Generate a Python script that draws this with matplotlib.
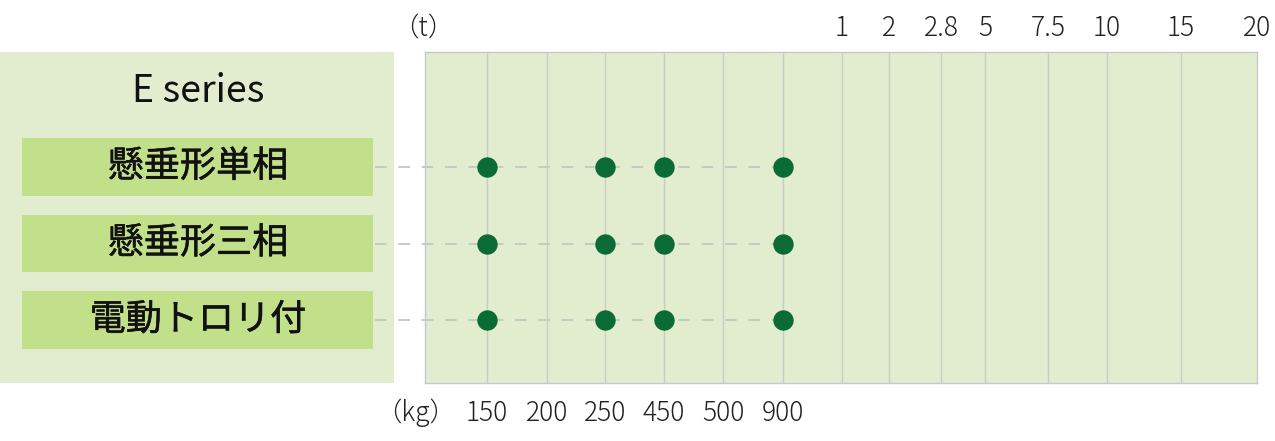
import matplotlib.pyplot as plt
from matplotlib.patches import Rectangle
import matplotlib.patheffects as pe

plt.rcParams['font.family'] = ['Noto Sans CJK JP', 'DejaVu Sans']

# data
series_name = "E series"
rows = ["懸垂形単相", "懸垂形三相", "電動トロリ付"]
kg_labels = ["150", "200", "250", "450", "500", "900"]
t_labels = ["1", "2", "2.8", "5", "7.5", "10", "15", "20"]
row_capacities = [
    ["150", "250", "450", "900"],
    ["150", "250", "450", "900"],
    ["150", "250", "450", "900"],
]

# layout (pixel columns of the capacity scale)
kg_pos = [487, 547, 605, 664, 723, 783]
t_pos = [842, 889, 941, 985, 1048, 1107, 1181, 1257]
W, H = 1275, 441
x0, x1 = 425, 1257
y_top, y_bot = 52, 383
ylims = (2.82, -1.5)

bg = "#e2edd0"
box_col = "#c2e08a"
dot_col = "#0b6b35"
grid_col = "#c9cec1"
dash_col = "#c6cac3"
txt_col = "#222222"

fig = plt.figure(figsize=(W / 100, H / 100), dpi=100)

# left panel
axl = fig.add_axes([0, 1 - y_bot / H, 394 / W, (y_bot - y_top) / H])
axl.set_xlim(0, 394)
axl.set_ylim(*ylims)
axl.set_facecolor(bg)
for s in axl.spines.values():
    s.set_visible(False)
axl.set_xticks([])
axl.set_yticks([])
axl.text(198, -0.99, series_name, fontsize=27, ha="center", va="center", color="#111111")
for i, name in enumerate(rows):
    axl.add_patch(Rectangle((22, i - 0.375), 351, 0.75, facecolor=box_col, edgecolor="none"))
    axl.text(198, i, name, fontsize=26, ha="center", va="center", color="#111111",
             path_effects=[pe.withStroke(linewidth=0.4, foreground="#111111")])

# main panel
ax = fig.add_axes([x0 / W, 1 - y_bot / H, (x1 - x0) / W, (y_bot - y_top) / H])
ax.set_xlim(x0, x1)
ax.set_ylim(*ylims)
ax.set_facecolor(bg)
for s in ax.spines.values():
    s.set_color("#c8c8c8")
    s.set_linewidth(1)
ax.set_xticks([])
ax.set_yticks([])
for x in kg_pos + t_pos[:-1]:
    ax.axvline(x, color=grid_col, lw=1, zorder=1)

for i, caps in enumerate(row_capacities):
    xs = [kg_pos[kg_labels.index(c)] for c in caps]
    ax.plot([375, max(xs)], [i, i], color=dash_col, lw=1.4, dashes=(6, 6),
            clip_on=False, zorder=2)
    ax.scatter(xs, [i] * len(xs), s=215, color=dot_col, zorder=3, linewidths=0)

trans = ax.get_xaxis_transform()
for x, lab in zip(kg_pos, kg_labels):
    ax.text(x, -0.0906, lab, transform=trans, fontsize=19, fontweight="light",
            ha="center", va="center", color=txt_col)
for x, lab in zip(t_pos, t_labels):
    ax.text(x, 1.0725, lab, transform=trans, fontsize=19, fontweight="light",
            ha="center", va="center", color=txt_col)
ax.text(416, -0.0906, "（kg）", transform=trans, fontsize=19, fontweight="light",
        ha="center", va="center", color=txt_col)
ax.text(423, 1.0725, "（t）", transform=trans, fontsize=19, fontweight="light",
        ha="center", va="center", color=txt_col)

fig.savefig("out.png", dpi=100)
